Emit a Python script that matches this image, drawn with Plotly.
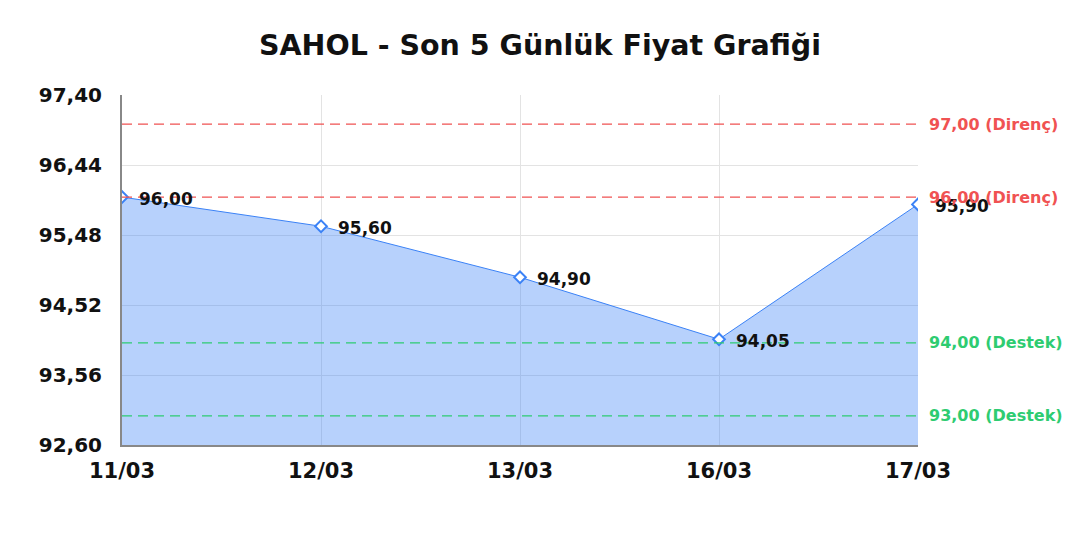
import plotly.graph_objects as go

dates = ["11/03", "12/03", "13/03", "16/03", "17/03"]
prices = [96.00, 95.60, 94.90, 94.05, 95.90]

resistance = [97.00, 96.00]
support = [94.00, 93.00]

y_min, y_max, y_step = 92.60, 97.40, 0.96

FONT = "DejaVu Sans"
RED = "#f05252"
GREEN = "#2ecc71"
BLUE = "#3b82f6"


def tr(v):
    return f"{v:.2f}".replace(".", ",")


fig = go.Figure()

fig.add_trace(go.Scatter(
    x=dates, y=prices,
    mode="lines+markers",
    fill="tozeroy",
    fillcolor="rgba(59,130,246,0.37)",
    line=dict(color=BLUE, width=1),
    marker=dict(symbol="diamond", size=9, color="white",
                line=dict(color=BLUE, width=2)),
    hoverinfo="x+y",
))

# fiyat etiketleri
for d, p in zip(dates, prices):
    fig.add_annotation(x=d, y=p, text=tr(p), showarrow=False,
                       xanchor="left", xshift=15, yshift=-2,
                       font=dict(family=FONT, size=17, color="#111111", weight="bold"))

# destek / direnç çizgileri
for lvl, col, name in [(r, RED, "Direnç") for r in resistance] + \
                      [(s, GREEN, "Destek") for s in support]:
    fig.add_hline(y=lvl, line=dict(color=col, width=1.3, dash="10px,6px"), layer="above")
    fig.add_annotation(xref="paper", x=1, y=lvl, yref="y",
                       text=f"{tr(lvl)} ({name})", showarrow=False,
                       xanchor="left", xshift=9,
                       font=dict(family=FONT, size=16, color=col, weight="bold"))

fig.update_layout(
    width=1072, height=524,
    title=dict(text="SAHOL - Son 5 Günlük Fiyat Grafiği", x=0.4963, xanchor="center",
               y=1 - 37 / 524, yanchor="middle",
               font=dict(family=FONT, size=28.5, color="#111111", weight="bold")),
    separators=",.",
    plot_bgcolor="white", paper_bgcolor="white",
    margin=dict(l=114, r=162, t=87, b=87),
    showlegend=False,
    font=dict(family=FONT),
)

fig.update_xaxes(
    type="category", range=[0, len(dates) - 1],
    showgrid=True, gridcolor="#e3e3e3", gridwidth=1,
    showline=True, linecolor="#888888", linewidth=2,
    ticks="", ticklabelstandoff=6,
    tickfont=dict(family=FONT, size=21, color="#111111", weight="bold"),
    zeroline=False,
)
fig.update_yaxes(
    range=[y_min, y_max], tick0=y_min, dtick=y_step, tickformat=".2f",
    showgrid=True, gridcolor="#e3e3e3", gridwidth=1,
    showline=True, linecolor="#888888", linewidth=2,
    ticks="", ticklabelstandoff=14,
    tickfont=dict(family=FONT, size=20, color="#111111", weight="bold"),
    zeroline=False,
)

fig.write_html("out.html")
